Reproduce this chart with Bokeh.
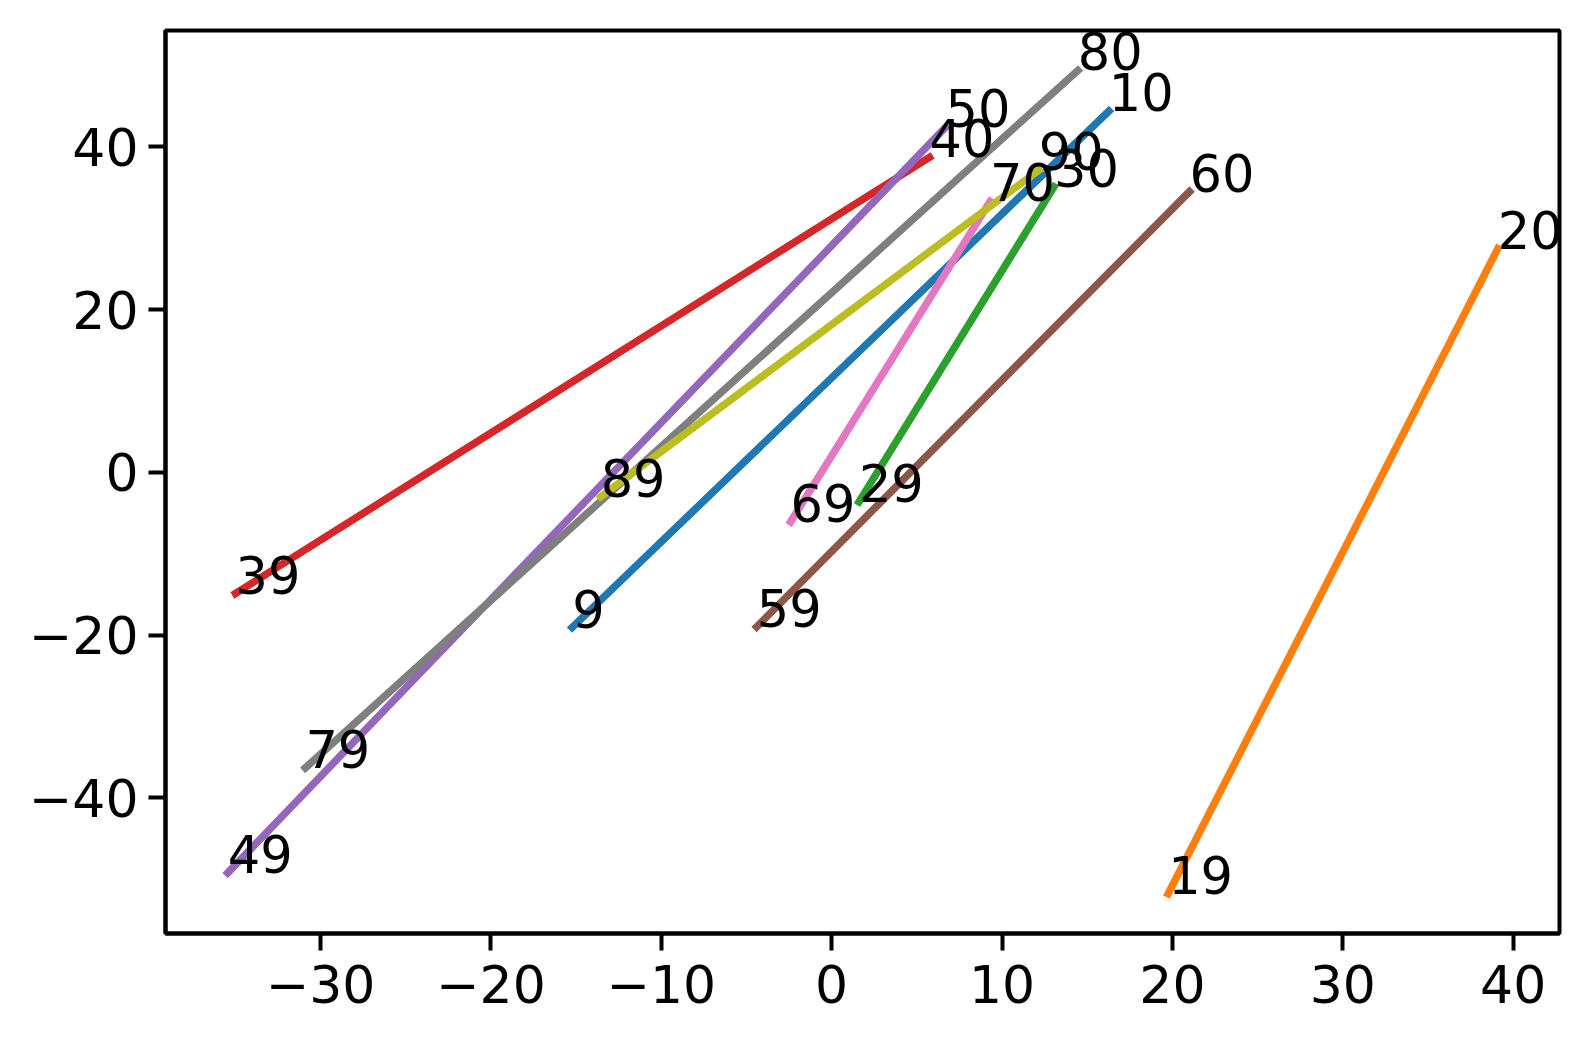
from bokeh.plotting import figure
from bokeh.models import Range1d, FixedTicker, ColumnDataSource
from bokeh.embed import file_html
from bokeh.resources import INLINE
from bokeh.core.properties import value

# ---- data ----
start_labels = ["9", "19", "29", "39", "49", "59", "69", "79", "89"]
end_labels = ["10", "20", "30", "40", "50", "60", "70", "80", "90"]
x_start = [-15.23, 19.75, 1.60, -34.99, -35.45, -4.40, -2.41, -30.89, -13.56]
y_start = [-19.07, -51.8, -3.63, -14.89, -49.23, -18.99, -6.08, -36.32, -3.01]
x_end = [16.27, 39.10, 13.05, 5.74, 6.68, 21.00, 9.30, 14.45, 12.16]
y_end = [44.40, 27.50, 35.10, 38.71, 42.40, 34.50, 33.30, 49.40, 37.15]
colors = ["#1f77b4", "#ff7f0e", "#2ca02c", "#d62728", "#9467bd",
          "#8c564b", "#e377c2", "#7f7f7f", "#bcbd22"]

x_ticks = [-30, -20, -10, 0, 10, 20, 30, 40]
x_tick_labels = ["\u221230", "\u221220", "\u221210", "0", "10", "20", "30", "40"]
y_ticks = [-40, -20, 0, 20, 40]
y_tick_labels = ["\u221240", "\u221220", "0", "20", "40"]

src = ColumnDataSource(dict(x0=x_start, y0=y_start, x1=x_end, y1=y_end,
                            c=colors, s=start_labels, e=end_labels))

FONT = "DejaVu Sans"
TICK_FS = "52px"
LABEL_FS = "51px"

p = figure(width=1578, height=1030, output_backend="svg", toolbar_location=None,
           x_range=Range1d(-39.1, 42.72), y_range=Range1d(-56.68, 54.31),
           min_border_left=165, min_border_top=30, min_border_right=19,
           min_border_bottom=97)
p.background_fill_color = "white"
p.border_fill_color = "white"
p.grid.visible = False
p.outline_line_color = "black"
p.outline_line_width = 4

p.segment(x0="x0", y0="y0", x1="x1", y1="y1", line_color="c", line_width=7.5,
          line_cap="square", source=src)
p.text(x="x0", y="y0", text="s", source=src, text_font=value(FONT),
       text_font_size=value(LABEL_FS), text_align="left", text_baseline="alphabetic",
       y_offset=-19, text_color="black")
p.text(x="x1", y="y1", text="e", source=src, text_font=value(FONT),
       text_font_size=value(LABEL_FS), text_align="left", text_baseline="alphabetic",
       y_offset=-19, text_color="black")

p.xaxis.ticker = FixedTicker(ticks=x_ticks)
p.yaxis.ticker = FixedTicker(ticks=y_ticks)
p.xaxis.major_label_overrides = {t: l for t, l in zip(x_ticks, x_tick_labels)}
p.yaxis.major_label_overrides = {t: l for t, l in zip(y_ticks, y_tick_labels)}
for ax in (p.xaxis[0], p.yaxis[0]):
    ax.axis_line_color = "black"
    ax.axis_line_width = 4
    ax.major_tick_line_color = "black"
    ax.major_tick_line_width = 4
    ax.major_tick_out = 17
    ax.major_tick_in = 0
    ax.minor_tick_line_color = None
    ax.major_label_text_font = FONT
    ax.major_label_text_font_size = TICK_FS
    ax.major_label_text_color = "black"
p.xaxis.major_label_standoff = 14
p.yaxis.major_label_standoff = 10

open("out.html", "w").write(file_html(p, INLINE))
